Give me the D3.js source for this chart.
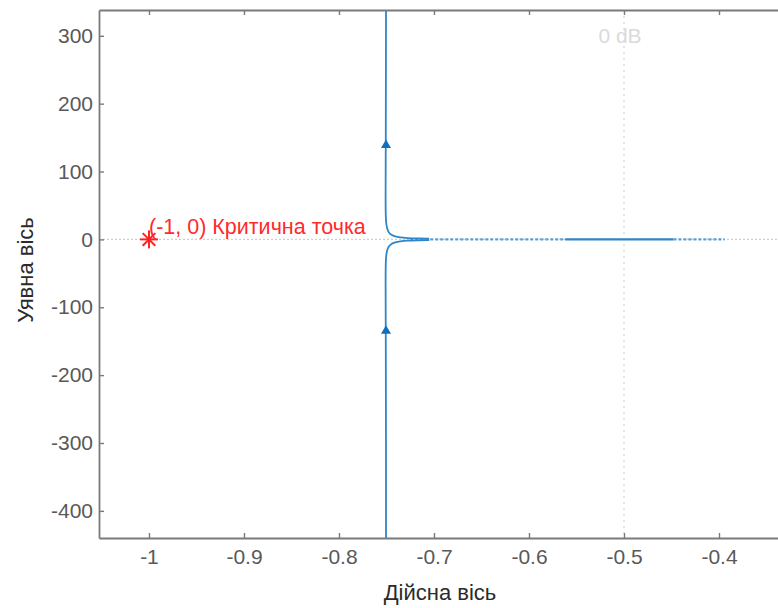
<!DOCTYPE html>
<html>
<head>
<meta charset="utf-8">
<script src="https://cdn.jsdelivr.net/npm/d3@7"></script>
<style>
  body { margin: 0; background: #fff; }
  svg { font-family: "Liberation Sans", Arial, sans-serif; }
</style>
</head>
<body>
<script>
// Nyquist plot data
var xTicks = [-1, -0.9, -0.8, -0.7, -0.6, -0.5, -0.4];
var yTicks = [300, 200, 100, 0, -100, -200, -300, -400];
// upper branch: real / imag parts; lower branch is the mirror image
var branchRe = [-0.7505, -0.7505, -0.7507, -0.751, -0.7508, -0.7502, -0.7492, -0.7475, -0.7450, -0.7410, -0.7360, -0.7280, -0.7180, -0.7050];
var branchIm = [460, 300, 150, 60, 32, 22, 15, 10, 6.5, 4.2, 2.8, 1.9, 1.4, 1.1];
// piece of the curve lying on the real axis: [from, to, dashed]
var axisPieces = [[-0.725, -0.562, 1], [-0.562, -0.448, 0], [-0.448, -0.394, 1]];
var arrowIm = [140, -134];
var arrowRe = -0.7505;
var critical = [-1, 0];

var w = 778, h = 608;
var mLeft = 99, mRight = 814, mTop = 10, mBottom = 538;

var svg = d3.select("body").append("svg")
  .attr("width", w).attr("height", h);

var xScale = d3.scaleLinear().domain([-1.0526, -0.3]).range([mLeft, mRight]);
var yScale = d3.scaleLinear().domain([-440, 338]).range([mBottom, mTop]);

svg.append("clipPath").attr("id", "clip")
  .append("rect").attr("x", mLeft).attr("y", mTop)
  .attr("width", mRight - mLeft).attr("height", mBottom - mTop);
var plot = svg.append("g").attr("clip-path", "url(#clip)");

// zero lines (dotted gray)
plot.append("line")
  .attr("x1", mLeft).attr("x2", mRight)
  .attr("y1", yScale(0)).attr("y2", yScale(0))
  .attr("stroke", "#cfcfcf").attr("stroke-width", 1.2)
  .attr("stroke-dasharray", "2,2");
plot.append("line")
  .attr("x1", xScale(-0.5)).attr("x2", xScale(-0.5))
  .attr("y1", mTop).attr("y2", mBottom)
  .attr("stroke", "#d4d4d4").attr("stroke-width", 1.2)
  .attr("stroke-dasharray", "2,4");

plot.append("text")
  .attr("x", 620).attr("y", 43)
  .attr("text-anchor", "middle")
  .attr("font-size", 21).attr("fill", "#dadada")
  .text("0 dB");

// curve
var blue = "#2f86c8";
var upper = branchRe.map((r, i) => [r, branchIm[i]]);
var lower = branchRe.map((r, i) => [r, -branchIm[i]]);
var line = d3.line().curve(d3.curveBasis).x(d => xScale(d[0])).y(d => yScale(d[1]));

[upper, lower].forEach(function(b) {
  plot.append("path").datum(b)
    .attr("d", line)
    .attr("fill", "none").attr("stroke", blue).attr("stroke-width", 1.8);
});

axisPieces.forEach(function(p) {
  plot.append("line")
    .attr("x1", xScale(p[0])).attr("x2", xScale(p[1]))
    .attr("y1", yScale(0)).attr("y2", yScale(0))
    .attr("stroke", blue).attr("stroke-width", 2.2)
    .attr("stroke-dasharray", p[2] ? "3,2" : null)
    .attr("opacity", p[2] ? 0.75 : 1);
});

// arrows (both pointing up)
arrowIm.forEach(function(v) {
  var cx = xScale(arrowRe), cy = yScale(v);
  plot.append("path")
    .attr("d", "M" + cx + "," + (cy - 5) + "L" + (cx + 5) + "," + (cy + 3.5) + "L" + (cx - 5) + "," + (cy + 3.5) + "Z")
    .attr("fill", "#0f6fbd");
});

// critical point
var px = xScale(critical[0]), py = yScale(critical[1]);
var r = 9;
var star = plot.append("g").attr("stroke", "#ff2020").attr("stroke-width", 2);
star.append("line").attr("x1", px - r).attr("x2", px + r).attr("y1", py).attr("y2", py);
star.append("line").attr("x1", px).attr("x2", px).attr("y1", py - r).attr("y2", py + r);
star.append("line").attr("x1", px - r * 0.7).attr("x2", px + r * 0.7).attr("y1", py - r * 0.7).attr("y2", py + r * 0.7);
star.append("line").attr("x1", px - r * 0.7).attr("x2", px + r * 0.7).attr("y1", py + r * 0.7).attr("y2", py - r * 0.7);

plot.append("text")
  .attr("x", px).attr("y", py - 5)
  .attr("font-size", 21.5).attr("fill", "#ff2a2a")
  .text("(-1, 0) Критична точка");

// axes
var axisColor = "#7a7a7a";
var fmt = d => String(d);
var xAxis = d3.axisBottom(xScale).tickValues(xTicks).tickSizeInner(-5).tickSizeOuter(0).tickPadding(11).tickFormat(fmt);
var yAxis = d3.axisLeft(yScale).tickValues(yTicks).tickSizeInner(-5).tickSizeOuter(0).tickPadding(6).tickFormat(fmt);
var xTop = d3.axisTop(xScale).tickValues(xTicks).tickSizeInner(-5).tickSizeOuter(0).tickFormat("");

var gx = svg.append("g").attr("transform", "translate(0," + mBottom + ")").call(xAxis);
var gy = svg.append("g").attr("transform", "translate(" + mLeft + ",0)").call(yAxis);
var gt = svg.append("g").attr("transform", "translate(0," + mTop + ")").call(xTop);

[gx, gy, gt].forEach(function(g) {
  g.select(".domain").attr("stroke", axisColor).attr("stroke-width", 1.8);
  g.selectAll(".tick line").attr("stroke", axisColor).attr("stroke-width", 1.4);
  g.selectAll(".tick text").attr("fill", "#595959").attr("font-size", 21)
    .attr("font-family", "'Liberation Sans', Arial, sans-serif");
});

svg.append("text")
  .attr("x", 440).attr("y", 600)
  .attr("text-anchor", "middle").attr("font-size", 22).attr("fill", "#2b2b2b")
  .text("Дійсна вісь");
svg.append("text")
  .attr("transform", "translate(33,270) rotate(-90)")
  .attr("text-anchor", "middle").attr("font-size", 22).attr("fill", "#2b2b2b")
  .text("Уявна вісь");
</script>
</body>
</html>
